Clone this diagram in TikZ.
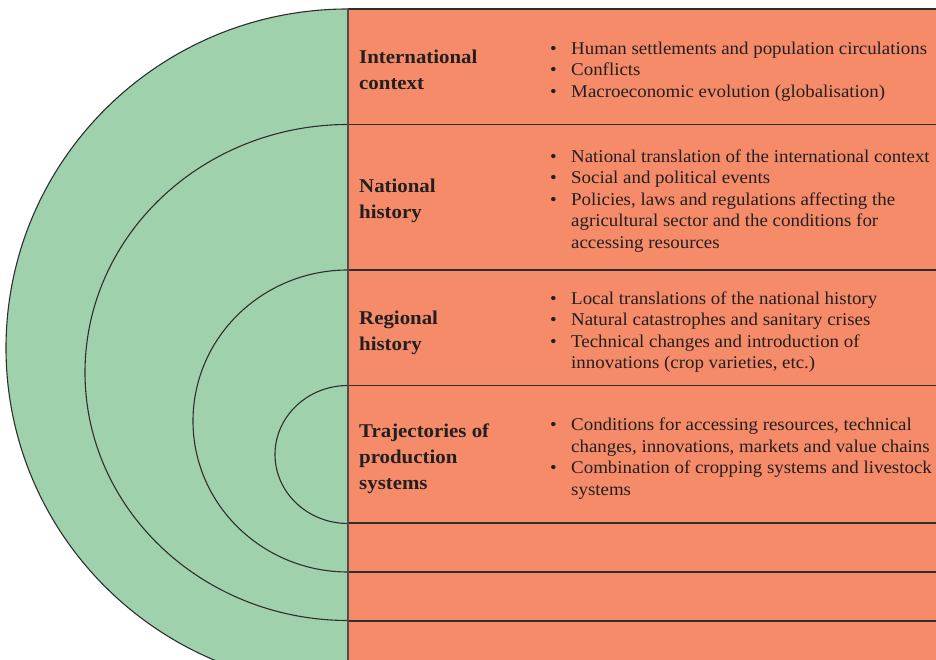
\documentclass[tikz,border=0pt]{standalone}
\usepackage{fontspec}
\setmainfont[FakeStretch=1.05]{Liberation Serif}
\newfontfamily\labfont[FakeStretch=1.07]{Liberation Serif}
\definecolor{ringgreen}{HTML}{9FD2AC}
\definecolor{bandorange}{HTML}{F58B69}
\definecolor{ink}{HTML}{231F20}
\definecolor{rulecol}{HTML}{2E2E2E}
\newcommand\bul{\makebox[22pt][l]{\hspace*{1pt}\textbullet}}
\newcommand\cnt{\hspace*{22pt}}
\begin{document}
\begin{tikzpicture}[x=1pt,y=1pt,
  lab/.style={anchor=west, inner sep=0pt, align=left, text=ink, font=\labfont\fontsize{19.5}{26}\selectfont\bfseries},
  items/.style={anchor=west, inner sep=0pt, align=left, text=ink, font=\fontsize{18}{21.5}\selectfont},
  ring/.style={draw=rulecol, line width=1.1pt},
  sep/.style={draw=rulecol, line width=1.3pt}]
\useasboundingbox (0,0) rectangle (936,660);
\clip (0,0) rectangle (936,660);
% outer green half disc
\fill[ringgreen] (348,651) arc[start angle=90, end angle=270, x radius=342, y radius=339] -- cycle;
\draw[ring] (348,651) arc[start angle=90, end angle=270, x radius=342, y radius=339];
% orange band
\fill[bandorange] (348,651) rectangle (940,-10);
% inner arcs
\draw[ring] (348,535.5) arc[start angle=90, end angle=270, x radius=263, y radius=248];
\draw[ring] (348,390) arc[start angle=90, end angle=270, x radius=155, y radius=151];
\draw[ring] (348,274.5) arc[start angle=90, end angle=270, x radius=73, y radius=69];
% separators
\coordinate (t0) at (348,651);   \coordinate (e0) at (936,651);
\coordinate (t1) at (348,535.5); \coordinate (e1) at (936,535.5);
\coordinate (t2) at (348,390);   \coordinate (e2) at (936,390);
\coordinate (t3) at (348,274.5); \coordinate (e3) at (936,274.5);
\coordinate (t4) at (348,137);   \coordinate (e4) at (936,137);
\coordinate (t5) at (348,88);    \coordinate (e5) at (936,88);
\coordinate (t6) at (348,39);    \coordinate (e6) at (936,39);
\coordinate (vb) at (348,-5);
\foreach \i in {0,...,6} {\draw[sep] (t\i) -- (e\i);}
\draw[draw=rulecol!85!white, line width=1.8pt] (t0) -- (vb);
% labels
\node[lab] (l1) at (359,590) {International\\context};
\node[lab] (l2) at (359,459) {National\\history};
\node[lab] (l3) at (359,327) {Regional\\history};
\node[lab] (l4) at (359,201) {Trajectories of\\production\\systems};
% items
\node[items] (i1) at (549,588.5) {\bul Human settlements and population circulations\\
\bul Conflicts\\
\bul Macroeconomic evolution (globalisation)};
\node[items] (i2) at (549,459) {\bul National translation of the international context\\
\bul Social and political events\\
\bul Policies, laws and regulations affecting the\\
\cnt agricultural sector and the conditions for\\
\cnt accessing resources};
\node[items] (i3) at (549,328) {\bul Local translations of the national history\\
\bul Natural catastrophes and sanitary crises\\
\bul Technical changes and introduction of\\
\cnt innovations (crop varieties, etc.)};
\node[items] (i4) at (549,201.5) {\bul Conditions for accessing resources, technical\\
\cnt changes, innovations, markets and value chains\\
\bul Combination of cropping systems and livestock\\
\cnt systems};
\end{tikzpicture}
\end{document}
